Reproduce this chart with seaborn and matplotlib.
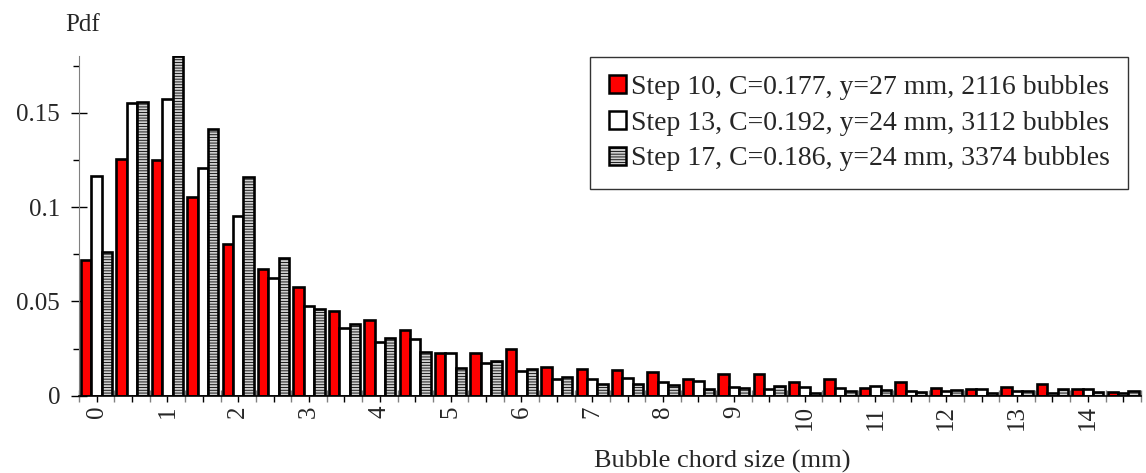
import numpy as np
import pandas as pd
import matplotlib
matplotlib.use("Agg")
import matplotlib.pyplot as plt
from matplotlib.patches import Patch
from matplotlib.ticker import FixedLocator, FuncFormatter
import seaborn as sns

# bin start (mm), 0.5 mm bins
bins = [i * 0.5 for i in range(30)]
series_names = [
    "Step 10, C=0.177, y=27 mm, 2116 bubbles",
    "Step 13, C=0.192, y=24 mm, 3112 bubbles",
    "Step 17, C=0.186, y=24 mm, 3374 bubbles",
]
step10 = [0.0719, 0.1253, 0.1248, 0.1055, 0.0802, 0.0672, 0.0574, 0.0449, 0.0403, 0.0348,
          0.0225, 0.0225, 0.0248, 0.0154, 0.0143, 0.0136, 0.0124, 0.0088, 0.0113, 0.0115,
          0.0075, 0.0088, 0.0040, 0.0075, 0.0041, 0.0037, 0.0048, 0.0060, 0.0035, 0.0019]
step13 = [0.1166, 0.1550, 0.1570, 0.1209, 0.0951, 0.0626, 0.0477, 0.0357, 0.0286, 0.0302,
          0.0228, 0.0172, 0.0131, 0.0089, 0.0087, 0.0095, 0.0074, 0.0080, 0.0046, 0.0037,
          0.0046, 0.0042, 0.0052, 0.0027, 0.0025, 0.0037, 0.0024, 0.0012, 0.0035, 0.0012]
step17 = [0.0763, 0.1558, 0.1800, 0.1415, 0.1161, 0.0728, 0.0461, 0.0378, 0.0306, 0.0232,
          0.0148, 0.0184, 0.0140, 0.0099, 0.0060, 0.0060, 0.0055, 0.0034, 0.0041, 0.0052,
          0.0013, 0.0027, 0.0031, 0.0020, 0.0032, 0.0015, 0.0025, 0.0036, 0.0021, 0.0025]
y_ticks = [0, 0.05, 0.1, 0.15]

colors = ["#ff0000", "#ffffff", "#cfcfcf"]

sns.set_style("white")
plt.rcParams["font.family"] = ["Liberation Serif", "DejaVu Serif"]
plt.rcParams["hatch.linewidth"] = 0.6

df = pd.DataFrame({
    "bin": [f"{b:g}" for b in bins] * 3,
    "pdf": step10 + step13 + step17,
    "series": np.repeat(series_names, len(bins)),
})

fig = plt.figure(figsize=(11.46, 4.73), dpi=100)
ax = fig.add_axes([0.0689, 0.1634, 0.9267, 0.718])

sns.barplot(data=df, x="bin", y="pdf", hue="series", hue_order=series_names,
            palette=colors, width=0.88, gap=0, edgecolor="black", linewidth=1.9,
            saturation=1, legend=False, ax=ax)

for bar in ax.containers[2]:
    bar.set_hatch("------")

ax.set_xlim(-0.5, len(bins) - 0.5)
ax.set_ylim(0, 0.18)

# y axis
ax.yaxis.set_major_locator(FixedLocator(y_ticks))
ax.yaxis.set_minor_locator(FixedLocator([0.025, 0.075, 0.125, 0.175]))
ax.yaxis.set_major_formatter(FuncFormatter(lambda v, p: f"{v:g}"))
ax.tick_params(axis="y", which="major", direction="inout", length=11, width=1,
               color="black", labelsize=18, pad=8, left=True)
ax.tick_params(axis="y", which="minor", direction="out", length=4.5, width=1,
               color="black", left=True)

# x axis: labels every 1 mm, ticks at centres and boundaries
ax.xaxis.set_major_locator(FixedLocator(range(len(bins))))
ax.set_xticklabels([f"{b:g}" if i % 2 == 0 else "" for i, b in enumerate(bins)],
                   rotation=90)
ax.xaxis.set_minor_locator(FixedLocator([i - 0.5 for i in range(len(bins) + 1)]))
ax.tick_params(axis="x", which="major", direction="out", length=4, width=1,
               color="black", labelsize=18, pad=3, bottom=True)
ax.tick_params(axis="x", which="minor", direction="inout", length=8, width=1,
               color="#808080", bottom=True)

for side in ["top", "right"]:
    ax.spines[side].set_visible(False)
ax.spines["left"].set_color("#808080")
ax.spines["bottom"].set_color("black")
ax.spines["bottom"].set_linewidth(1.2)

ax.set_ylabel("")
ax.set_xlabel("Bubble chord size (mm)", fontsize=19)
ax.xaxis.set_label_coords(0.606, -0.16)

fig.text(65 / 1146, 1 - 31 / 473, "Pdf", fontsize=18, ha="left", va="baseline")

handles = [Patch(facecolor=colors[0], edgecolor="black", linewidth=1.8),
           Patch(facecolor=colors[1], edgecolor="black", linewidth=1.8),
           Patch(facecolor=colors[2], edgecolor="black", linewidth=1.8, hatch="------")]
leg = ax.legend(handles, series_names, loc="upper right", bbox_to_anchor=(0.988, 0.997),
                borderaxespad=0, fontsize=20, frameon=True, fancybox=False,
                handlelength=0.62, handleheight=0.62, handletextpad=0.2,
                labelspacing=0.38, borderpad=0.65)
leg.get_frame().set_edgecolor("black")
leg.get_frame().set_linewidth(1)

fig.savefig("out.png", dpi=100)
